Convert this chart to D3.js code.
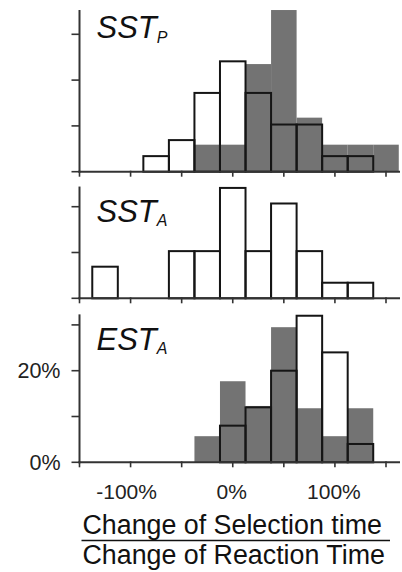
<!DOCTYPE html>
<html><head><meta charset="utf-8">
<script src="https://cdn.jsdelivr.net/npm/d3@7/dist/d3.min.js"></script>
<style>html,body{margin:0;padding:0;background:#fff;}svg{display:block;}</style>
</head><body>
<svg id="c" width="402" height="572"></svg>
<script>
// Bin centres (% change ratio), bins are 25% wide
const binCenters = [-125,-100,-75,-50,-25,0,25,50,75,100,125,150];
// Percent of cells per bin
const sstP_white = [0,0,3.4,6.9,17.2,24.1,17.2,10.3,10.3,3.4,3.4,0];
const sstP_gray  = [0,0,0,0,5.9,5.9,23.5,35.3,11.8,5.9,5.9,5.9];
const sstA_white = [6.9,0,0,10.3,10.3,24.1,10.3,20.7,10.3,3.4,3.4,0];
const sstA_gray  = [0,0,0,0,0,0,0,0,0,0,0,0];
const estA_white = [0,0,0,0,0,8,12,20,32,24,4,0];
const estA_gray  = [0,0,0,0,5.7,17.7,12.3,29.5,11.8,5.7,11.8,0];
const xTicks = [-150,-100,-50,0,50,100,150];
const xTickLabels = {"-100":"-100%","0":"0%","100":"100%"};
const panelNames = [["SST","P"],["SST","A"],["EST","A"]];
const yTicks = [[0,10,20,30],[0,10,20],[0,10,20,30]];
const yTickLabels = {0:"0%",20:"20%"};
const titleTop = "Change of Selection time";
const titleBottom = "Change of Reaction Time";

const svg = d3.select("#c");
const axisColor = "#333";
const barStroke = "#151515";
const grayFill = "#737373";
const font = "'Liberation Sans', Arial, Helvetica, sans-serif";

const x = d3.scaleLinear().domain([-150,150]).range([79.5,386]);
const pxPerPct = 4.58;
const axisRight = 400;

const panels = [
  {white: sstP_white, gray: sstP_gray, base: 171.7, ymax: 35.3, ticks: yTicks[0], name: panelNames[0], labY: 38.3, labels:false},
  {white: sstA_white, gray: sstA_gray, base: 298.3, ymax: 24.4, ticks: yTicks[1], name: panelNames[1], labY: 221.7, labels:false},
  {white: estA_white, gray: estA_gray, base: 462.3, ymax: 32.3, ticks: yTicks[2], name: panelNames[2], labY: 350, labels:true}
];

panels.forEach(p => {
  const y = d3.scaleLinear().domain([0, p.ymax]).range([p.base, p.base - p.ymax*pxPerPct]);
  const g = svg.append("g");
  const gd = binCenters.map((c,i)=>({c, v:p.gray[i]})).filter(d=>d.v>0);
  const wd = binCenters.map((c,i)=>({c, v:p.white[i]})).filter(d=>d.v>0);
  g.selectAll("rect.g").data(gd).join("rect")
    .attr("x", d=>x(d.c-12.5)).attr("width", d=>x(d.c+12.5)-x(d.c-12.5))
    .attr("y", d=>y(d.v)).attr("height", d=>y(0)-y(d.v))
    .attr("fill", grayFill);
  g.selectAll("rect.w").data(wd).join("rect")
    .attr("x", d=>x(d.c-12.5)).attr("width", d=>x(d.c+12.5)-x(d.c-12.5))
    .attr("y", d=>y(d.v)).attr("height", d=>y(0)-y(d.v))
    .attr("fill", "none").attr("stroke", barStroke).attr("stroke-width", 2);
  // y axis
  const x0 = x(-150);
  g.append("line").attr("x1", x0).attr("x2", x0).attr("y1", y(p.ymax)).attr("y2", y(0)+1)
    .attr("stroke", axisColor).attr("stroke-width", 2);
  g.selectAll("line.yt").data(p.ticks).join("line")
    .attr("x1", x0-8).attr("x2", x0).attr("y1", d=>y(d)).attr("y2", d=>y(d))
    .attr("stroke", axisColor).attr("stroke-width", 1.6);
  if (p.labels) {
    g.selectAll("text.yl").data(p.ticks.filter(t=>yTickLabels[t])).join("text")
      .attr("x", x0-19).attr("y", d=>y(d)).attr("dy","0.36em")
      .attr("text-anchor","end").attr("font-family", font).attr("font-size", 21.5)
      .attr("fill","#222")
      .text(d=>yTickLabels[d]);
  }
  // x axis
  g.append("line").attr("x1", x0-1).attr("x2", axisRight).attr("y1", y(0)).attr("y2", y(0))
    .attr("stroke", axisColor).attr("stroke-width", 2);
  g.selectAll("line.xt").data(xTicks).join("line")
    .attr("x1", d=>x(d)).attr("x2", d=>x(d)).attr("y1", y(0)-1).attr("y2", y(0)+5)
    .attr("stroke", axisColor).attr("stroke-width", 1.6);
  if (p.labels) {
    g.selectAll("text.xl").data(xTicks.filter(t=>xTickLabels[String(t)])).join("text")
      .attr("x", d=>x(d)).attr("dx", d=>d<0?-4:-1).attr("y", 499)
      .attr("text-anchor","middle").attr("font-family", font).attr("font-size", 21)
      .attr("fill","#222")
      .text(d=>xTickLabels[String(d)]);
  }
  // panel name
  const t = g.append("text").attr("x", 96.5).attr("y", p.labY)
    .attr("font-family", font).attr("font-style","italic").attr("font-size", 31).attr("fill","#111");
  t.append("tspan").text(p.name[0]);
  t.append("tspan").attr("font-size", 16).attr("dy", 4.4).text(p.name[1]);
});

// axis title (fraction)
svg.append("text").attr("x", 82.5).attr("y", 534).attr("font-family", font).attr("font-size", 26.8)
  .attr("fill","#111").text(titleTop);
svg.append("line").attr("x1", 81.5).attr("x2", 390).attr("y1", 540.5).attr("y2", 540.5)
  .attr("stroke","#111").attr("stroke-width", 1.6);
svg.append("text").attr("x", 82.5).attr("y", 564).attr("font-family", font).attr("font-size", 26.8)
  .attr("fill","#111").text(titleBottom);
</script>
</body></html>
